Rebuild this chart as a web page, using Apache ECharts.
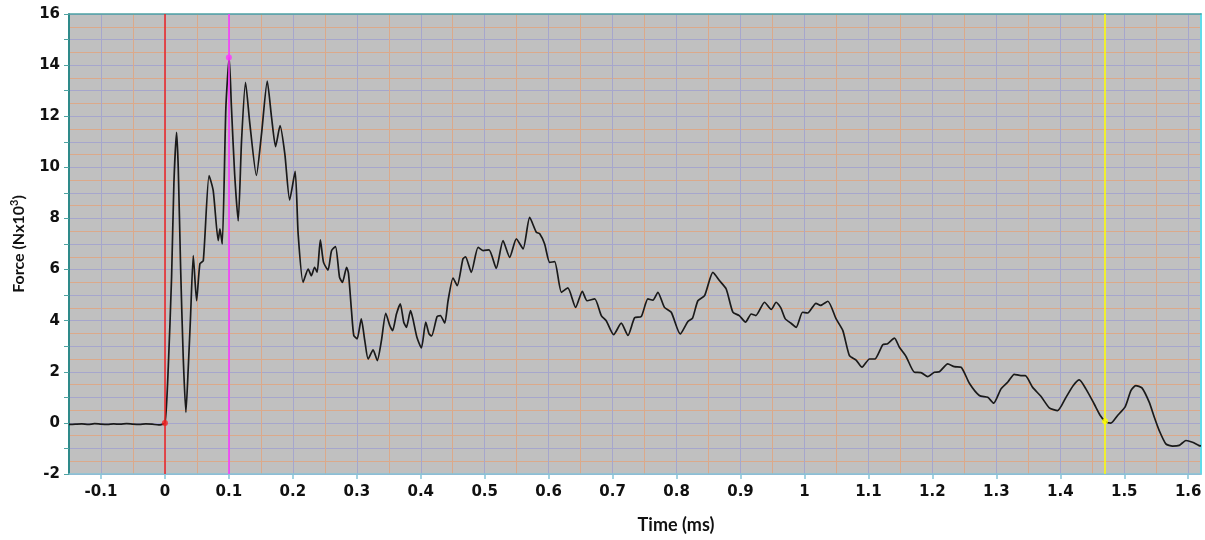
<!DOCTYPE html>
<html>
<head>
<meta charset="utf-8">
<script src="https://cdn.jsdelivr.net/npm/echarts@6/dist/echarts.min.js"></script>
<style>
html,body{margin:0;padding:0;background:#ffffff;}
#chart{width:1205px;height:540px;}
</style>
</head>
<body>
<div id="chart"></div>
<script>
// ---- data ----
const timeMs = [
-0.15,-0.14,-0.13,-0.12,-0.11,-0.10,-0.09,-0.08,-0.07,-0.06,-0.05,-0.04,-0.03,-0.02,-0.01,
0.000,0.0052,0.0104,0.014,0.0182,0.0208,0.0245,0.0286,0.0328,0.0365,0.040,0.0443,0.0495,0.0547,0.060,
0.069,0.0755,0.0833,0.086,0.0896,0.0953,0.1005,0.104,0.109,0.1146,0.1198,0.126,0.1328,0.143,0.151,
0.160,0.1667,0.173,0.180,0.1875,0.195,0.2036,0.2083,0.216,0.224,0.229,0.234,0.238,0.243,0.248,
0.255,0.2605,0.2667,0.273,0.2776,0.284,0.287,0.2917,0.2953,0.3005,0.307,0.3125,0.3177,0.3255,0.332,
0.3385,0.3453,0.3516,0.356,0.362,0.368,0.3734,0.3776,0.384,0.3875,0.394,0.401,0.4078,0.413,0.417,
0.4255,0.4307,0.4375,0.4427,0.4505,0.457,0.466,0.470,0.479,0.4896,0.4974,0.5068,0.518,0.5286,0.539,
0.5495,0.560,0.5703,0.5807,0.586,0.5937,0.6016,0.6094,0.620,0.630,0.6422,0.6526,0.660,0.672,0.6823,
0.690,0.7016,0.7135,0.724,0.7344,0.7448,0.7552,0.763,0.7708,0.781,0.7917,0.8057,0.8177,0.825,0.8333,
0.8438,0.8568,0.867,0.8776,0.888,0.898,0.9078,0.9167,0.924,0.9375,0.948,0.9557,0.963,0.970,0.979,
0.987,0.997,1.005,1.018,1.025,1.0365,1.0495,1.060,1.0703,1.0807,1.090,1.1016,1.110,1.1224,1.130,
1.1406,1.1484,1.159,1.1719,1.182,1.1927,1.203,1.211,1.224,1.2344,1.2448,1.2578,1.2734,1.2865,1.2958,
1.3073,1.318,1.328,1.3385,1.3453,1.3568,1.370,1.3828,1.3958,1.4089,1.4203,1.4297,1.440,1.453,1.4625,
1.4703,1.479,1.4896,1.5016,1.5104,1.518,1.5276,1.539,1.547,1.5547,1.565,1.5755,1.586,1.5964,1.6067,
1.617,1.62
];
const forceKN = [
-0.06,-0.05,-0.04,-0.06,-0.03,-0.05,-0.06,-0.04,-0.05,-0.03,-0.05,-0.06,-0.04,-0.05,-0.08,
0.0,2.17,5.7,9.36,11.37,10.0,6.09,2.57,0.41,2.17,4.13,6.55,4.78,6.23,6.35,
9.68,9.09,7.13,7.59,7.0,12.35,14.3,12.35,9.74,7.9,11.04,13.33,11.7,9.68,11.3,
13.37,11.96,10.81,11.63,10.52,8.72,9.84,7.39,5.5,6.02,5.76,6.09,5.9,7.16,6.28,
5.98,6.74,6.9,5.7,5.5,6.09,5.85,4.39,3.42,3.29,4.07,3.22,2.5,2.86,2.44,
3.22,4.29,3.81,3.61,4.26,4.66,3.94,3.74,4.39,4.1,3.35,2.93,3.94,3.48,3.4,
4.16,4.2,3.9,4.78,5.67,5.37,6.42,6.5,5.89,6.87,6.74,6.77,6.05,7.13,6.48,
7.2,6.81,8.04,7.46,7.4,7.0,6.28,6.31,5.11,5.28,4.52,5.15,4.78,4.85,4.2,
4.0,3.45,3.9,3.42,4.11,4.16,4.85,4.8,5.11,4.52,4.33,3.48,3.97,4.1,4.78,
4.98,5.89,5.57,5.24,4.33,4.2,3.94,4.26,4.2,4.72,4.44,4.72,4.5,4.07,3.9,
3.74,4.33,4.3,4.68,4.6,4.76,4.07,3.61,2.63,2.46,2.18,2.5,2.5,3.06,3.1,
3.32,2.96,2.59,1.98,1.97,1.81,1.98,2.0,2.31,2.2,2.18,1.55,1.07,1.0,0.77,
1.33,1.6,1.9,1.85,1.85,1.39,1.03,0.59,0.48,1.0,1.46,1.68,1.33,0.74,0.29,
0.06,-0.01,0.29,0.64,1.26,1.46,1.37,0.81,0.22,-0.3,-0.82,-0.91,-0.88,-0.69,-0.76,
-0.89,-0.9
];
const cursorTimes = [0, 0.1, 1.47];
const cursorForces = [0, 14.3, 0.06];
const cursorColors = ['#ee2222', '#ff33ff', '#ffff00'];
const xTickLabels = [-0.1,0,0.1,0.2,0.3,0.4,0.5,0.6,0.7,0.8,0.9,1,1.1,1.2,1.3,1.4,1.5,1.6];
const yTickLabels = [-2,0,2,4,6,8,10,12,14,16];

const linePoints = timeMs.map((t, i) => [t, forceKN[i]]);
const cursorPoints = cursorTimes.map((t, i) => ({
  value: [t, cursorForces[i]],
  itemStyle: { color: cursorColors[i] }
}));

const BLUE = '#a6a6cc', ORANGE = '#dba98a';
const labelFont = { fontFamily: 'DejaVu Sans', fontWeight: 'bold', fontSize: 15, color: '#111' };

const chart = echarts.init(document.getElementById('chart'), null, { renderer: 'canvas' });
chart.setOption({
  animation: false,
  backgroundColor: '#ffffff',
  grid: { left: 69, right: 4, top: 14, bottom: 66, show: true, backgroundColor: '#c0c0c0', borderWidth: 0,
          containLabel: false, outerBoundsMode: 'none' },
  xAxis: [{
    // main axis: blue lines at every 0.1 (follow the tick values), ticks and labels
    type: 'value', min: -0.15, max: 1.62, interval: 0.05, position: 'bottom',
    name: 'Time (ms)', nameLocation: 'middle', nameGap: 42,
    nameTextStyle: { fontFamily: 'Lato', fontWeight: 'bold', fontSize: 18, color: '#111', padding: [0, 0, 0, 82] },
    axisLine: { show: true, onZero: false, lineStyle: { color: '#86c4d8', width: 1.5 } },
    axisTick: { show: true, customValues: xTickLabels, length: 5, lineStyle: { color: '#86c4d8', width: 1.5 } },
    axisLabel: Object.assign({ customValues: xTickLabels, margin: 11 }, labelFont),
    splitLine: { show: true, lineStyle: { color: BLUE, width: 1 } }
  }, {
    // helper axis counted from -0.15 by 0.1: orange lines at the odd 0.05 positions, top border
    type: 'value', min: -0.15, max: 1.62, interval: 0.1, position: 'top',
    axisLine: { show: true, onZero: false, lineStyle: { color: '#4fa3a3', width: 1.5 } },
    axisTick: { show: false }, axisLabel: { show: false },
    splitLine: { show: true, showMinLine: false, showMaxLine: false, lineStyle: { color: ORANGE, width: 1 } }
  }],
  yAxis: [{
    type: 'value', min: -2, max: 16, interval: 1,
    name: 'Force (Nx10{sup|3})', nameLocation: 'middle', nameGap: 41, nameRotate: 90,
    nameTextStyle: { fontFamily: 'Lato', fontWeight: 'bold', fontSize: 16, color: '#111',
      rich: { sup: { fontFamily: 'Lato', fontWeight: 'bold', fontSize: 11, color: '#111', verticalAlign: 'bottom', padding: [0, 0, 8, 0] } } },
    axisLine: { show: true, onZero: false, lineStyle: { color: '#2e8a8a', width: 2 } },
    axisTick: { show: true, length: 5, lineStyle: { color: '#4fa3a3', width: 1 } },
    axisLabel: Object.assign({ margin: 9, formatter: v => (yTickLabels.indexOf(v) >= 0 ? String(v) : '') }, labelFont),
    splitLine: { show: true, lineStyle: { color: BLUE, width: 1 } },
    minorTick: { show: false, splitNumber: 2 },
    minorSplitLine: { show: true, lineStyle: { color: ORANGE, width: 1 } }
  }, {
    type: 'value', min: -2, max: 16, position: 'right',
    axisLine: { show: true, onZero: false, lineStyle: { color: '#5fdcea', width: 2 } },
    axisTick: { show: false }, axisLabel: { show: false }, splitLine: { show: false }
  }],
  series: [{
    type: 'line', xAxisIndex: 0, yAxisIndex: 0,
    data: linePoints, showSymbol: false, smooth: 0.2,
    lineStyle: { color: '#1a1a1a', width: 1.7 },
    silent: true,
    markLine: {
      silent: true, symbol: ['none', 'none'], label: { show: false },
      data: cursorTimes.map((t, i) => ({ xAxis: t, lineStyle: { color: cursorColors[i], width: 1.5, type: 'solid' } }))
    },
    z: 3
  }, {
    type: 'scatter', xAxisIndex: 0, yAxisIndex: 0,
    data: cursorPoints, symbolSize: 6, silent: true, z: 5
  }]
});
</script>
</body>
</html>
